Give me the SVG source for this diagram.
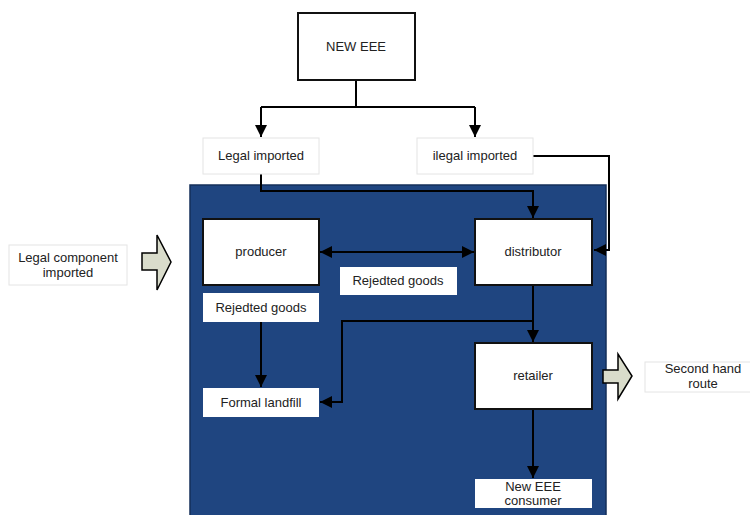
<svg xmlns="http://www.w3.org/2000/svg" width="750" height="515" viewBox="0 0 750 515">
<defs>
<marker id="ah2" viewBox="0 0 10 10" refX="10" refY="5" markerWidth="12" markerHeight="12" markerUnits="userSpaceOnUse" orient="auto-start-reverse">
<path d="M0,0 L10,5 L0,10 z" fill="#000"/>
</marker>
</defs>
<style>
text{font-family:"Liberation Sans",Arial,sans-serif;font-size:13px;fill:#222;text-anchor:middle}
.box{fill:#fff;stroke:#111;stroke-width:2}
.lbl{fill:#fff;stroke:#e4e4e4;stroke-width:1}
.wl{fill:#fff;stroke:none}
.c{fill:none;stroke:#000;stroke-width:2}
.blk{fill:#d9dccb;stroke:#000;stroke-width:1.5}
</style>
<rect width="750" height="515" fill="#fff"/>
<rect id="main" x="190" y="185" width="416" height="335" fill="#1f4580" stroke="#152f5a" stroke-width="1.5"/>
<g id="connectors">
<path class="c" d="M356,80 V107 M261,107 H475" />
<path class="c" d="M261,107 V137" marker-end="url(#ah2)"/>
<path class="c" d="M475,107 V137" marker-end="url(#ah2)"/>
<path class="c" d="M261,174 V191 H533 V218" marker-end="url(#ah2)" stroke-width="1.5"/>
<path class="c" d="M533,156 H609 V250 H594" marker-end="url(#ah2)" stroke-width="1.2"/>
<path class="c" d="M320,252 H474" marker-start="url(#ah2)" marker-end="url(#ah2)"/>
<path class="c" d="M261,322 V387" marker-end="url(#ah2)"/>
<path class="c" d="M533,285 V342" marker-end="url(#ah2)"/>
<path class="c" d="M533,321 H342 V402 H320" marker-end="url(#ah2)"/>
<path class="c" d="M533,409 V478" marker-end="url(#ah2)"/>
</g>
<g id="new-eee"><rect class="box" x="298" y="13" width="117" height="67"/><text x="356" y="51">NEW EEE</text></g>
<g id="legal-imported"><rect class="lbl" x="203" y="138" width="116" height="36"/><text x="261" y="160">Legal imported</text></g>
<g id="ilegal-imported"><rect class="lbl" x="417" y="138" width="116" height="36"/><text x="475" y="160">ilegal imported</text></g>
<g id="producer"><rect class="box" x="203" y="219" width="116" height="66"/><text x="261" y="256">producer</text></g>
<g id="distributor"><rect class="box" x="475" y="219" width="117" height="66"/><text x="533" y="256">distributor</text></g>
<g id="rejected-mid"><rect class="wl" x="340" y="267" width="117" height="28"/><text x="398" y="285">Rejedted goods</text></g>
<g id="rejected-left"><rect class="wl" x="203" y="293" width="116" height="29"/><text x="261" y="312">Rejedted goods</text></g>
<g id="formal-landfill"><rect class="wl" x="203" y="388" width="116" height="29"/><text x="261" y="407">Formal landfill</text></g>
<g id="retailer"><rect class="box" x="475" y="343" width="117" height="66"/><text x="533" y="380">retailer</text></g>
<g id="consumer"><rect class="wl" x="475" y="479" width="117" height="29"/><text x="533" y="491">New EEE</text><text x="533" y="505">consumer</text></g>
<g id="legal-component"><rect class="lbl" x="9" y="245" width="118" height="40"/><text x="68" y="262">Legal component</text><text x="68" y="277">imported</text></g>
<g id="second-hand"><rect class="lbl" x="645" y="362" width="110" height="30"/><text x="703" y="373">Second hand</text><text x="703" y="388">route</text></g>
<g id="arrow-in"><path class="blk" d="M142,253 H157 V235 L171,262 L157,290 V270 H142 z"/></g>
<g id="arrow-out"><path class="blk" d="M603,370 H618 V354 L632,376 L618,399 V383 H603 z"/></g>
</svg>
